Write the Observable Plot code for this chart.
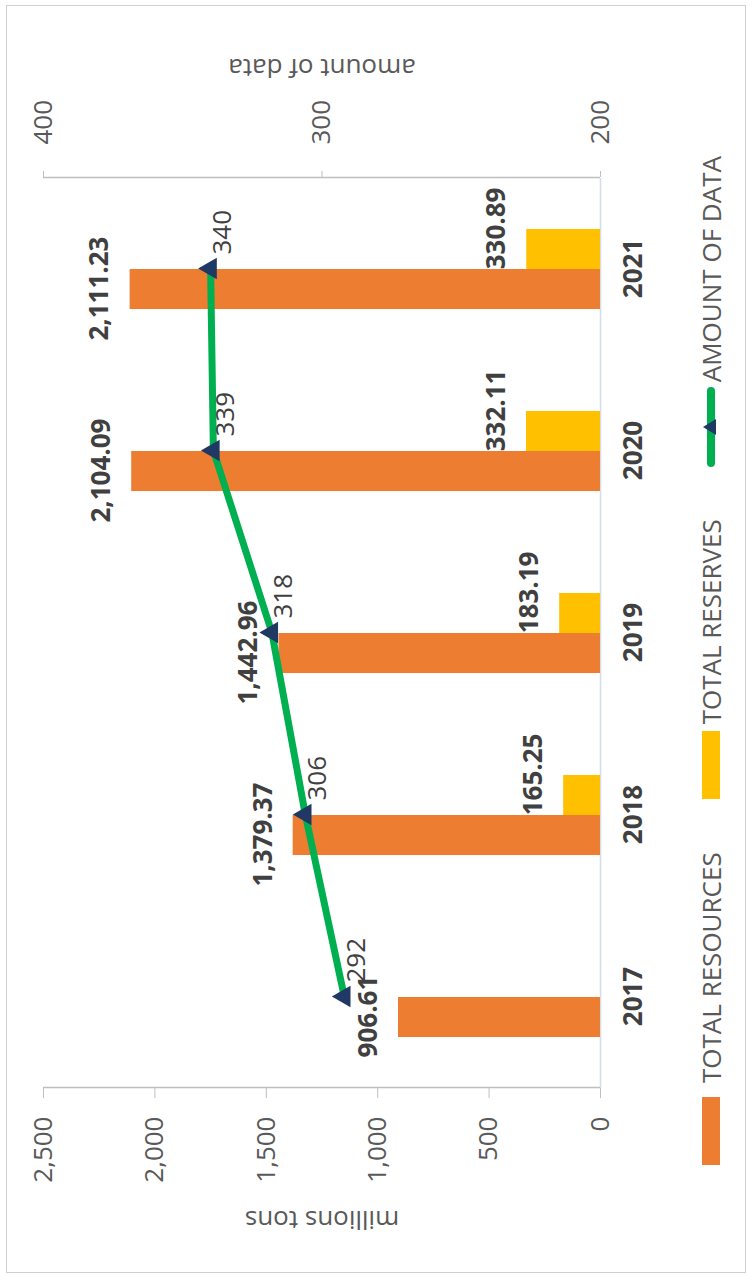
<!DOCTYPE html>
<html>
<head>
<meta charset="utf-8">
<script src="https://cdn.jsdelivr.net/npm/d3@7"></script>
<script src="https://cdn.jsdelivr.net/npm/@observablehq/plot@0.6"></script>
<style>
  html, body { margin: 0; padding: 0; background: #fff; }
  #outer { position: relative; width: 752px; height: 1283px; overflow: hidden; background: #fff; }
  #land { position: absolute; left: 0; top: 0; width: 1283px; height: 752px;
          transform-origin: 0 0; transform: translateY(1283px) rotate(-90deg); }
  #frame { position: absolute; left: 10px; top: 6px; width: 1268px; height: 740px;
           border: 1.5px solid #d0d0d0; box-sizing: border-box; pointer-events: none; }
  #chart { position: absolute; left: 0; top: 0; }
  #legend { position: absolute; left: 118px; top: 693px; height: 36px; display: flex; align-items: center;
            font-family: 'Open Sans', sans-serif; font-size: 26px; color: #595959; white-space: nowrap; }
  .sw { display: inline-block; width: 68px; height: 18px; }
</style>
</head>
<body>
<div id="outer">
  <div id="land">
    <div id="frame"></div>
    <div id="chart"></div>
    <div id="legend">
      <span class="sw" style="background:#ED7D31"></span>
      <span style="margin-left:14px">TOTAL RESOURCES</span>
      <span class="sw" style="background:#FFC000;margin-left:53px"></span>
      <span style="margin-left:7px">TOTAL RESERVES</span>
      <svg width="80" height="20" style="margin-left:52px">
        <line x1="4" y1="10" x2="76" y2="10" stroke="#00B050" stroke-width="8" stroke-linecap="round"></line>
        <path d="M40,2 L48,15 L32,15 Z" fill="#1F3864"></path>
      </svg>
      <span style="margin-left:5px">AMOUNT OF DATA</span>
    </div>
  </div>
</div>
<script>
// ---- data ----
const years = [2017, 2018, 2019, 2020, 2021];
const totalResources = [906.61, 1379.37, 1442.96, 2104.09, 2111.23];
const totalReserves = [null, 165.25, 183.19, 332.11, 330.89];
const amountOfData = [292, 306, 318, 339, 340];
const leftTicks = [0, 500, 1000, 1500, 2000, 2500];
const rightTicks = [200, 300, 400];
const leftDomain = [0, 2500];
const rightDomain = [200, 400];

// ---- tables ----
const resRows = years.map((y, i) => ({year: y, value: totalResources[i]}));
const rsvRows = years.map((y, i) => ({year: y, value: totalReserves[i]})).filter(d => d.value != null);
const amtRows = years.map((y, i) => ({year: y, value: amountOfData[i]}));

const xDomain = [years[0] - 0.5, years[years.length - 1] + 0.5];
const barW = 0.22; // bar width in category units
const s2 = d3.scaleLinear(rightDomain, leftDomain);
const fmt = d3.format(",.2f");

const chart = Plot.plot({
  width: 1283,
  height: 680,
  marginLeft: 195,
  marginRight: 178,
  marginTop: 43,
  marginBottom: 80,
  x: {type: "linear", domain: xDomain, axis: null},
  y: {domain: leftDomain},
  style: {fontFamily: "'Open Sans', sans-serif", fontSize: "26px", color: "#595959", background: "transparent", overflow: "visible"},
  marks: [
    Plot.ruleY([leftDomain[0]], {stroke: "#d6dce5", strokeWidth: 1.5}),
    Plot.rect(resRows, {x1: d => d.year - barW, x2: "year", y1: 0, y2: "value", fill: "#ED7D31"}),
    Plot.rect(rsvRows, {x1: "year", x2: d => d.year + barW, y1: 0, y2: "value", fill: "#FFC000"}),
    Plot.ruleX([xDomain[0]], {stroke: "#bfbfbf", strokeWidth: 1.5}),
    Plot.ruleX([xDomain[1]], {stroke: "#bfbfbf", strokeWidth: 1.5}),
    Plot.axisY({anchor: "left", ticks: leftTicks, tickFormat: d3.format(","), tickSize: 10, tickPadding: 19, label: null, stroke: "#bfbfbf", fill: "#595959"}),
    Plot.axisY({anchor: "right", ticks: rightTicks.map(s2), tickFormat: d => String(Math.round(s2.invert(d))), tickSize: 6, tickPadding: 27, label: null, stroke: "#bfbfbf", fill: "#595959"}),
    Plot.line(amtRows, {x: "year", y: d => s2(d.value), stroke: "#00B050", strokeWidth: 7}),
    Plot.dot(amtRows, {x: "year", y: d => s2(d.value), symbol: "triangle", r: 8, fill: "#1F3864", stroke: null}),
    Plot.text(resRows, {x: d => d.year - barW / 2, y: "value", text: d => fmt(d.value), dy: -30, fontWeight: "bold", fontSize: 26, fill: "#404040"}),
    Plot.text(rsvRows, {x: d => d.year + barW / 2, y: "value", text: d => fmt(d.value), dx: 20, dy: -30, fontWeight: "bold", fontSize: 26, fill: "#404040"}),
    Plot.text(amtRows, {x: "year", y: d => s2(d.value), text: d => String(d.value), textAnchor: "start", dx: 14, dy: 12, fontSize: 26, fill: "#404040"}),
    Plot.text(years, {x: d => d, text: d => String(d), frameAnchor: "bottom", dy: 41, fontWeight: "bold", fontSize: 26, fill: "#404040"}),
    Plot.text(["millions tons"], {text: d => d, frameAnchor: "left", textAnchor: "middle", dx: -132, rotate: -90, fontSize: 26, fill: "#595959"}),
    Plot.text(["amount of data"], {text: d => d, frameAnchor: "right", textAnchor: "middle", dx: 110, rotate: -90, fontSize: 26, fill: "#595959"})
  ]
});
document.getElementById("chart").appendChild(chart);
</script>
</body>
</html>
